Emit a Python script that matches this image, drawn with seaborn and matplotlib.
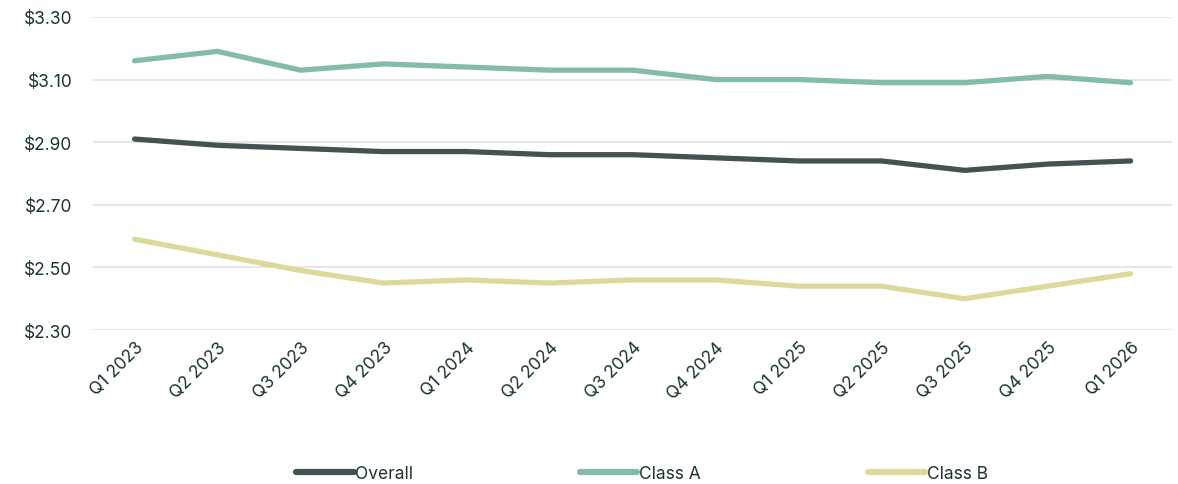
import matplotlib.pyplot as plt
import numpy as np
import pandas as pd
import seaborn as sns

quarters = ['Q1 2023', 'Q2 2023', 'Q3 2023', 'Q4 2023',
            'Q1 2024', 'Q2 2024', 'Q3 2024', 'Q4 2024',
            'Q1 2025', 'Q2 2025', 'Q3 2025', 'Q4 2025', 'Q1 2026']
overall = [2.91, 2.89, 2.88, 2.87, 2.87, 2.86, 2.86, 2.85, 2.84, 2.84, 2.81, 2.83, 2.84]
class_a = [3.16, 3.19, 3.13, 3.15, 3.14, 3.13, 3.13, 3.10, 3.10, 3.09, 3.09, 3.11, 3.09]
class_b = [2.59, 2.54, 2.49, 2.45, 2.46, 2.45, 2.46, 2.46, 2.44, 2.44, 2.40, 2.44, 2.48]
series = ['Overall', 'Class A', 'Class B']
yticks = [2.30, 2.50, 2.70, 2.90, 3.10, 3.30]

colors = {'Overall': '#435354', 'Class A': '#84bcab', 'Class B': '#dcd99b'}
text_color = '#1b3530'

df = pd.DataFrame({'quarter': quarters, 'Overall': overall,
                   'Class A': class_a, 'Class B': class_b})
df = df.melt(id_vars='quarter', value_vars=series, var_name='series', value_name='rent')

sns.set_theme(style='white')
plt.rcParams['font.family'] = ['Inter', 'DejaVu Sans']

fig = plt.figure(figsize=(11.78, 4.85), dpi=100)
ax = fig.add_axes([0.079, 0.3175, 0.916, 0.6455])

sns.lineplot(data=df, x='quarter', y='rent', hue='series', hue_order=series,
             palette=colors, linewidth=3.8, ax=ax, legend=False,
             solid_capstyle='round')

ax.set_ylim(2.30, 3.30)
ax.set_xlim(-0.5, len(quarters) - 0.5)
ax.set_yticks(yticks)
ax.set_yticklabels([f'${v:.2f}' for v in yticks], fontsize=12.5, color=text_color)
ax.set_xticks(range(len(quarters)))
ax.set_xticklabels(quarters, rotation=45, ha='right', rotation_mode='anchor',
                   fontsize=12.5, color=text_color)
ax.tick_params(axis='y', length=0, pad=15)
ax.tick_params(axis='x', length=0, pad=6)
ax.yaxis.grid(True, color='#e2e8e6', linewidth=1.5)
ax.set_axisbelow(True)
ax.set_xlabel('')
ax.set_ylabel('')
sns.despine(ax=ax, left=True, bottom=True)

handles = [plt.Line2D([], [], color=colors[s], linewidth=4.5, solid_capstyle='round')
           for s in series]
leg = fig.legend(handles, series, loc='lower center', bbox_to_anchor=(0.545, -0.028),
                 ncol=3, frameon=False, fontsize=12.5, handlelength=3.3,
                 handletextpad=0.1, columnspacing=9.6)
for t in leg.get_texts():
    t.set_color(text_color)

fig.savefig('out.png', dpi=100)
